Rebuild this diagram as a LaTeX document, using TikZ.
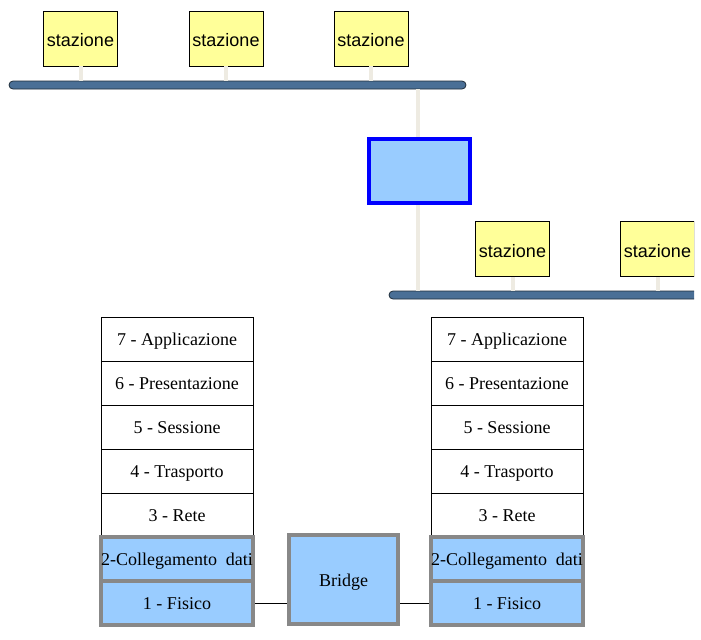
\documentclass[tikz,border=0pt]{standalone}
\usepackage{fontspec}
\setmainfont{Liberation Serif}
\newfontfamily\stfont{Liberation Sans}
\usepackage{tikz}
\usetikzlibrary{positioning}
\definecolor{stfill}{HTML}{FFFF99}
\definecolor{busfill}{HTML}{4A6F96}
\definecolor{busline}{HTML}{1E2B38}
\definecolor{stemcol}{HTML}{EEEBE2}
\definecolor{brfill}{HTML}{99CCFF}
\definecolor{brblue}{HTML}{0000FF}
\definecolor{brgray}{HTML}{888888}
\tikzset{
  stbox/.style={draw=black,semithick,fill=stfill,minimum width=55.5pt,minimum height=41.25pt,
                inner sep=0pt,text height=12.5pt,text depth=0pt,font=\stfont\fontsize{13.5}{16}\selectfont},
  bus/.style={draw=busline,semithick,fill=busfill,rounded corners=3pt,minimum height=6pt,inner sep=0pt},
  stem/.style={draw=stemcol,line width=3pt},
  layer/.style={draw=black,semithick,fill=white,minimum width=114pt,minimum height=33pt,
                inner sep=0pt,text height=11.5pt,text depth=1.5pt,font=\fontsize{13.5}{16}\selectfont},
  layerhw/.style={layer,draw=brgray,line width=3pt,fill=brfill},
  repeater/.style={draw=brblue,line width=3pt,fill=brfill,minimum width=75.75pt,minimum height=48pt},
  bridgebox/.style={draw=brgray,line width=3pt,fill=brfill,minimum width=81.75pt,minimum height=66.75pt,
                inner sep=0pt,text height=11.5pt,text depth=1.5pt,font=\fontsize{13.5}{16}\selectfont},
  link/.style={draw=black,semithick},
}

\begin{document}
\begin{tikzpicture}[x=0.75pt,y=-0.75pt]
  \path[use as bounding box] (0,0) rectangle (701,640);
  \clip (0,0) rectangle (694,640);
  % upper segment
  \node[stbox] (s1) at (80.5,38.5) {stazione};
  \node[stbox] (s2) at (226,38.5) {stazione};
  \node[stbox] (s3) at (371,38.5) {stazione};
  \node[bus,minimum width=342.75pt] (bus1) at (237.5,85) {};
  % lower segment
  \node[stbox] (s4) at (512.5,249) {stazione};
  \node[stbox] (s5) at (657.5,249) {stazione};
  \node[bus,minimum width=234pt] (bus2) at (545,295) {};
  \node[repeater] (rp) at (419.5,171) {};
  \foreach \s/\b in {s1/bus1,s2/bus1,s3/bus1,s4/bus2,s5/bus2}
    \draw[stem] (\s.south) -- (\s.south |- \b.north);
  \coordinate (b1) at (418,89);
  \coordinate (b2) at (418,290.5);
  \draw[stem] (b1) -- (b1 |- rp.north);
  \draw[stem] (b1 |- rp.south) -- (b2);
  % OSI stacks
  \foreach \k/\x in {a/177,b/507}{
    \node[layer] (\k7) at (\x,339) {7 - Applicazione};
    \node[layer] (\k6) at (\x,383) {6 - Presentazione};
    \node[layer] (\k5) at (\x,427) {5 - Sessione};
    \node[layer] (\k4) at (\x,471) {4 - Trasporto};
    \node[layer] (\k3) at (\x,515) {3 - Rete};
    \node[layerhw] (\k2) at (\x,559) {\makebox[112pt][c]{2-Collegamento\ \ dati}};
    \node[layerhw] (\k1) at (\x,603) {1 - Fisico};
  }
  \node[bridgebox] (br) at (343.5,579.5) {Bridge};
  \draw[link] (a1.east) -- (br.west |- a1.east);
  \draw[link] (br.east |- b1.west) -- (b1.west);
\end{tikzpicture}
\end{document}
